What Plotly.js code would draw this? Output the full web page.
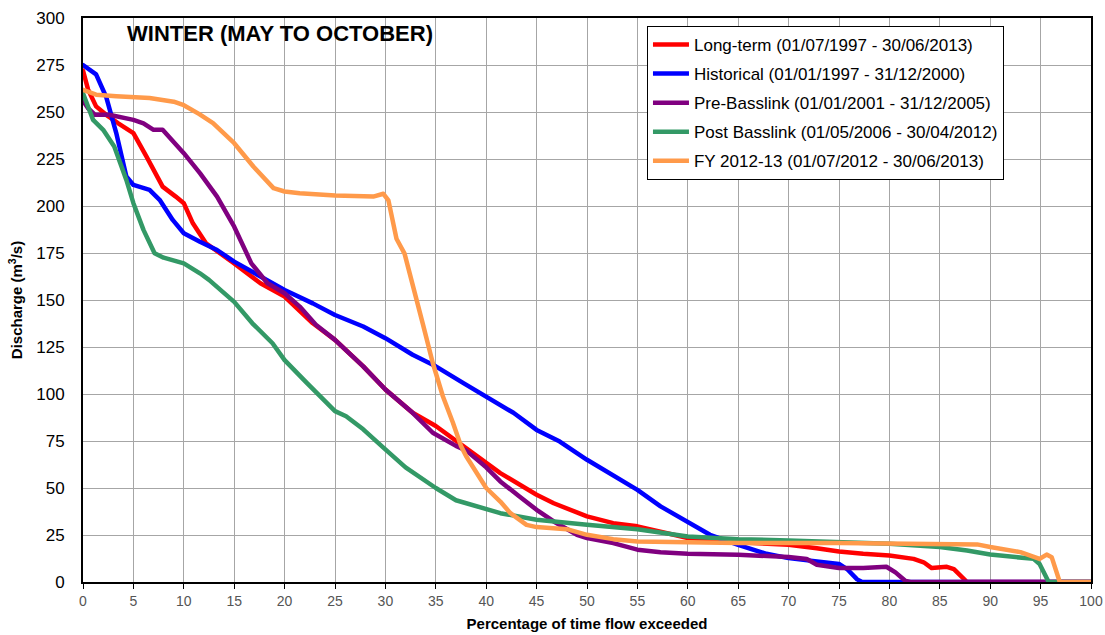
<!DOCTYPE html>
<html>
<head>
<meta charset="utf-8">
<script src="https://cdn.plot.ly/plotly-3.0.1.min.js"></script>
<style>
  html, body { margin: 0; padding: 0; background: #fff; }
  #chart { width: 1105px; height: 635px; }
  .scatterlayer path.js-line { stroke-linejoin: round; stroke-linecap: round; }
</style>
</head>
<body>
<div id="chart"></div>
<script>
// Flow duration curves, winter season (May to October)
// x: percentage of time the flow is exceeded, y: discharge in m3/s

const longTermX = [0, 0.5, 1.3, 2.3, 3.5, 5, 6.3, 7.9, 9.2, 10, 10.9, 12.2, 15, 17.6, 20, 22.8, 25, 27.8, 30, 32.7, 35, 37.7, 40, 41.4, 45, 46.7, 50, 52.6, 55, 57.9, 60, 65, 70, 72.8, 75, 77.4, 80, 82.4, 83.4, 84.2, 85.7, 86.4, 87.2, 87.7, 100];
const longTermY = [272, 262, 253, 248.5, 244, 238.8, 226.3, 210.3, 205, 201.5, 190.8, 180.2, 169.5, 158.9, 151.8, 137.6, 128.8, 114.7, 102.4, 90, 83, 72.4, 63, 57.9, 46.4, 41.9, 34.9, 31.3, 29.6, 26, 23.4, 21.1, 19.8, 18, 16.2, 15, 14.1, 12.3, 10.5, 7.4, 8.1, 6.9, 2.3, 0, 0];

const historicalX = [0, 0.6, 1.3, 2.3, 3.3, 4.3, 5, 6.6, 7.6, 8.9, 10, 11.6, 13.3, 15, 17.6, 20, 22.8, 25, 27.8, 30, 32.7, 35, 37.7, 40, 42.7, 45, 47.3, 50, 52.6, 55, 57.3, 60, 62.2, 65, 67.8, 70, 72.5, 75, 75.8, 76.8, 77.3, 100];
const historicalY = [275, 273, 270, 258, 238.8, 215.7, 211.2, 208.6, 203.3, 192.6, 185.5, 181, 176.6, 170.4, 162.4, 155.3, 148.2, 142, 135.9, 129.7, 120.9, 114.7, 105.9, 98.8, 90, 80.9, 74.7, 65, 57, 49, 40.2, 32.2, 25.1, 19.8, 15, 12.7, 11.4, 9.6, 6.9, 1.4, 0, 0];

const preBasslinkX = [0, 0.5, 1.2, 2.6, 5, 6, 7, 7.9, 10, 11.6, 13.3, 15, 16.7, 18.3, 20, 21.5, 23.1, 25, 27.8, 30, 32.7, 34.7, 37, 38, 40, 41.4, 43.3, 45, 46.7, 49, 50, 52.6, 55, 57.3, 60, 65, 70, 71.8, 72.8, 75, 77.4, 79.7, 80.6, 81.6, 82.1, 100];
const preBasslinkY = [256, 252, 248.5, 248.5, 245.8, 244, 240.5, 240.5, 228.1, 217.5, 205, 189, 169.5, 158.9, 153.6, 146.5, 136.8, 128.8, 114.7, 102.4, 90, 79.4, 72.4, 70, 61, 53.5, 45.5, 38.4, 32.2, 25.1, 23.4, 20.7, 17.2, 15.8, 15, 14.5, 13.3, 12.2, 9.2, 7.4, 7.4, 8.1, 5.1, 0.5, 0, 0];

const postBasslinkX = [0, 1, 2, 3.1, 4.3, 5, 6, 7.1, 8, 10, 11.6, 12.5, 15, 16.8, 18.8, 20, 22.2, 25, 26.1, 27.8, 29.8, 32, 35, 37, 41.4, 45, 50, 55, 60, 65, 70, 75, 80, 85, 87.7, 90, 92.3, 94.3, 94.9, 95.4, 95.8, 100];
const postBasslinkY = [260, 245.8, 240.5, 231.6, 213.9, 201.5, 187.3, 174.9, 172.5, 169.5, 164.2, 160.7, 149, 137.6, 127, 118, 105.9, 90.9, 88.2, 81.2, 71.5, 61, 50, 43.5, 36.6, 33.1, 30.4, 28.1, 24.2, 22.8, 22.1, 21.3, 20.4, 18.6, 16.8, 14.6, 13.5, 12.3, 9.6, 4.2, 0, 0];

const fy2013X = [0, 1.3, 3.3, 6.6, 9, 10, 11.5, 12.9, 15, 16.9, 18.9, 20, 21.5, 25, 28.8, 29.8, 30.3, 30.8, 31.1, 31.9, 32.7, 33.7, 34.7, 35.7, 36.7, 37.5, 38, 39, 40, 41.4, 42.4, 44, 45, 48, 50, 52.6, 55, 60, 65, 75, 85, 88.7, 90, 93, 94.9, 95.6, 96.1, 96.6, 96.9, 100];
const fy2013Y = [261.8, 259.2, 258.4, 257.4, 255.5, 253.6, 249, 244.1, 233.4, 221, 209.5, 207.7, 206.8, 205.6, 205, 206.5, 203, 190.6, 182.6, 174.7, 158.8, 137.6, 116.5, 98.8, 84.7, 72.4, 67, 58, 50, 42.8, 36.6, 30.4, 29.2, 28.1, 25.1, 22.8, 21.6, 21.1, 20.7, 20.8, 20.4, 20, 18.6, 15.9, 12.3, 14.6, 13.2, 6, 0, 0];

const seriesNames = [
  'Long-term (01/07/1997 - 30/06/2013)',
  'Historical (01/01/1997 - 31/12/2000)',
  'Pre-Basslink (01/01/2001 - 31/12/2005)',
  'Post Basslink (01/05/2006 - 30/04/2012)',
  'FY 2012-13 (01/07/2012 - 30/06/2013)'
];
const seriesColors = ['#ff0000', '#0000ff', '#800080', '#339966', '#ff9a4a'];
const seriesX = [longTermX, historicalX, preBasslinkX, postBasslinkX, fy2013X];
const seriesY = [longTermY, historicalY, preBasslinkY, postBasslinkY, fy2013Y];

const chartTitle = 'WINTER (MAY TO OCTOBER)';
const xTitle = 'Percentage of time flow exceeded';
const yTitle = 'Discharge (m<sup>3</sup>/s)';

const FONT = 'Liberation Sans, Arial, Helvetica, sans-serif';

const traces = seriesNames.map((name, i) => ({
  type: 'scatter',
  mode: 'lines',
  name: name,
  legendgroup: 'g' + i,
  x: seriesX[i],
  y: seriesY[i],
  line: { color: seriesColors[i], width: 4.5 },
  hoverinfo: 'x+y+name'
}));

const layout = {
  width: 1105,
  height: 635,
  margin: { l: 83, r: 14, t: 18, b: 53 },
  paper_bgcolor: '#ffffff',
  plot_bgcolor: '#ffffff',
  font: { family: FONT, color: '#000' },
  showlegend: true,
  legend: {
    x: 0.5595, y: 0.986, xanchor: 'left', yanchor: 'top',
    bgcolor: '#ffffff', bordercolor: '#000', borderwidth: 1,
    font: { family: FONT, size: 17, color: '#000' },
    tracegroupgap: 4,
    traceorder: 'grouped',
    itemwidth: 36
  },
  xaxis: {
    range: [0, 100], tick0: 0, dtick: 5,
    showgrid: true, gridcolor: '#a6a6a6', gridwidth: 1,
    zeroline: false,
    showline: true, linecolor: '#000', linewidth: 2, mirror: true,
    ticks: 'outside', ticklen: 5, tickwidth: 1, tickcolor: '#000',
    tickfont: { family: FONT, size: 14, color: '#555' },
    title: { text: xTitle, font: { family: FONT, size: 15, color: '#000', weight: 'bold' }, standoff: 11 }
  },
  yaxis: {
    range: [0, 300], tick0: 0, dtick: 25,
    showgrid: true, gridcolor: '#a6a6a6', gridwidth: 1,
    zeroline: false,
    showline: true, linecolor: '#000', linewidth: 2, mirror: true,
    ticks: '', ticklabelstandoff: 13,
    tickfont: { family: FONT, size: 17, color: '#000' },
    title: { text: yTitle, font: { family: FONT, size: 15, color: '#000', weight: 'bold' }, standoff: 10 }
  },
  annotations: [{
    text: '<b>' + chartTitle + '</b>',
    xref: 'paper', yref: 'paper',
    x: 0.0417, y: 0.973, xanchor: 'left', yanchor: 'middle',
    showarrow: false,
    font: { family: FONT, size: 22, color: '#000' }
  }]
};

Plotly.newPlot('chart', traces, layout, { displayModeBar: false, staticPlot: true });
</script>
</body>
</html>
